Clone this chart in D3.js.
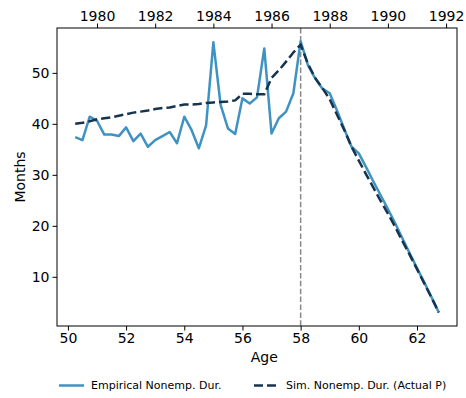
<!DOCTYPE html>
<html>
<head>
<meta charset="utf-8">
<script src="https://cdn.jsdelivr.net/npm/d3@7"></script>
<style>
  body { margin: 0; background: #fff; }
  svg { display: block; font-family: "DejaVu Sans", sans-serif; }
</style>
</head>
<body>
<svg id="chart" width="466" height="398"></svg>
<script>
const ages = d3.range(51).map(i => 50.25 + i * 0.25);
const empirical = [
  37.4, 36.8, 41.4, 40.6, 37.9, 37.9, 37.6, 39.3, 36.6, 38.1,
  35.5, 36.8, 37.6, 38.4, 36.2, 41.4, 38.8, 35.2, 39.7, 56.0,
  43.7, 39.1, 38.0, 45.0, 44.0, 45.2, 54.8, 38.1, 41.1, 42.4,
  46.0, 56.2, 51.5, 48.9, 46.9, 46.0, 42.6, 39.0, 35.5, 34.2,
  31.5, 28.7, 26.0, 23.3, 20.5, 17.5, 14.6, 11.7, 8.9, 6.0, 3.0
];
const simulated = [
  40.0, 40.2, 40.5, 40.9, 41.1, 41.3, 41.6, 41.9, 42.2, 42.4,
  42.6, 42.9, 43.1, 43.2, 43.5, 43.8, 43.8, 43.9, 44.1, 44.2,
  44.3, 44.4, 44.6, 45.9, 45.9, 45.8, 45.8, 49.0, 50.5, 52.2,
  54.0, 55.5, 51.8, 49.0, 47.0, 44.8, 41.8, 38.8, 35.5, 32.8,
  30.1, 27.5, 24.9, 22.4, 19.8, 17.0, 14.3, 11.5, 8.7, 5.9, 3.0
];
const ageTicks = [50, 52, 54, 56, 58, 60, 62];
const yearTicks = [1980, 1982, 1984, 1986, 1988, 1990, 1992];
const monthTicks = [10, 20, 30, 40, 50];
const retireAge = 58;
const yearOffset = 1929;
const seriesNames = ["Empirical Nonemp. Dur.", "Sim. Nonemp. Dur. (Actual P)"];

const svg = d3.select("#chart");
const L = 57, R = 457, T = 28, B = 326;
const x = d3.scaleLinear().domain([49.625, 63.375]).range([L, R]);
const xTop = d3.scaleLinear().domain([49.625 + yearOffset, 63.375 + yearOffset]).range([L, R]);
const y = d3.scaleLinear().domain([0.35, 58.8]).range([B, T]);

const fs = "14px";

// vertical line
svg.append("line")
  .attr("x1", x(retireAge)).attr("x2", x(retireAge))
  .attr("y1", T).attr("y2", B)
  .attr("stroke", "#888").attr("stroke-width", 1.5)
  .attr("stroke-dasharray", "5.5,2.4");

const line = d3.line().x((d, i) => x(ages[i])).y(d => y(d));

svg.append("path").datum(empirical)
  .attr("d", line).attr("fill", "none")
  .attr("stroke", "#3f93c2").attr("stroke-width", 2.5)
  .attr("stroke-linejoin", "round");

svg.append("path").datum(simulated)
  .attr("d", line).attr("fill", "none")
  .attr("stroke", "#17344f").attr("stroke-width", 2.5)
  .attr("stroke-dasharray", "9.25,4");

// frame
svg.append("rect").attr("x", L).attr("y", T).attr("width", R - L).attr("height", B - T)
  .attr("fill", "none").attr("stroke", "#000").attr("stroke-width", 1);

function styleAxis(g) {
  g.select(".domain").remove();
  g.selectAll("text").attr("font-size", fs).attr("fill", "#000").attr("font-family", "DejaVu Sans");
  g.selectAll("line").attr("stroke", "#000");
}

svg.append("g").attr("transform", `translate(0,${B})`)
  .call(d3.axisBottom(x).tickValues(ageTicks).tickFormat(d3.format("d")).tickSize(4.5).tickPadding(3))
  .call(styleAxis);

svg.append("g").attr("transform", `translate(0,${T})`)
  .call(d3.axisTop(xTop).tickValues(yearTicks).tickFormat(d3.format("d")).tickSize(4.5).tickPadding(3))
  .call(styleAxis);

svg.append("g").attr("transform", `translate(${L},0)`)
  .call(d3.axisLeft(y).tickValues(monthTicks).tickFormat(d3.format("d")).tickSize(4.5).tickPadding(3))
  .call(styleAxis);

svg.append("text").attr("x", x(56.75)).attr("y", 362)
  .attr("text-anchor", "middle").attr("font-size", fs).text("Age");

svg.append("text").attr("transform", `translate(25,${(T + B) / 2}) rotate(-90)`)
  .attr("text-anchor", "middle").attr("font-size", fs).text("Months");

// legend
const lg = svg.append("g");
const legY = 385.5;
lg.append("line").attr("x1", 59).attr("x2", 84).attr("y1", legY).attr("y2", legY)
  .attr("stroke", "#3f93c2").attr("stroke-width", 2.5);
lg.append("text").attr("x", 91).attr("y", legY).attr("dy", "0.35em")
  .attr("font-size", "11px").text(seriesNames[0]);
lg.append("line").attr("x1", 254).attr("x2", 279).attr("y1", legY).attr("y2", legY)
  .attr("stroke", "#17344f").attr("stroke-width", 2.5).attr("stroke-dasharray", "9,4");
lg.append("text").attr("x", 286).attr("y", legY).attr("dy", "0.35em")
  .attr("font-size", "11px").text(seriesNames[1]);
</script>
</body>
</html>
